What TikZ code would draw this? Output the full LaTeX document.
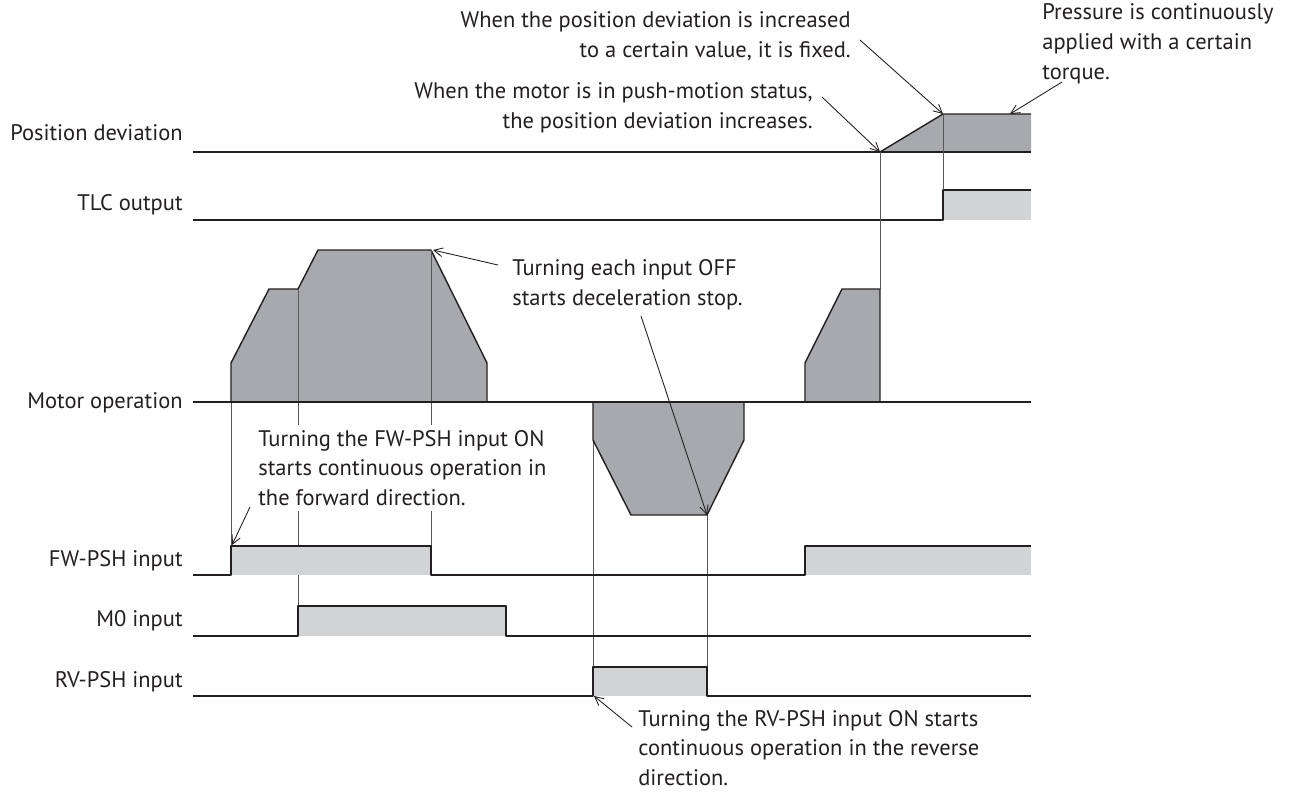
\documentclass[tikz,border=0pt]{standalone}
\usepackage{fontspec}
\setmainfont{PT Sans}
\usetikzlibrary{arrows.meta}
\definecolor{ink}{HTML}{231F20}
\definecolor{darkfill}{HTML}{A7A9AC}
\definecolor{lightfill}{HTML}{D1D3D4}
\tikzset{
	sig/.style={line width=0.8pt, draw=ink},
	guide/.style={line width=0.5pt, draw=ink!75},
	txt/.style={font=\fontsize{12.8}{17}\selectfont, text=ink, inner sep=0pt},
	lbl/.style={txt, anchor=east},
	note/.style={txt, align=left, anchor=west},
	pointer/.style={line width=0.5pt, draw=ink, ->}
}
\begin{document}
\begin{tikzpicture}[x=0.02cm, y=-0.02cm, line join=round, >={Straight Barb[length=5pt,width=5pt]}]
	\useasboundingbox (0,0) rectangle (1294,796);
	% signal names
	\node[lbl] (lblpos) at (183,133) {Position deviation};
	\node[lbl] (lbltlc) at (183,205) {TLC output};
	\node[lbl] (lblmotor) at (183,403) {Motor operation};
	\node[lbl] (lblfw) at (183,561) {FW-PSH input};
	\node[lbl] (lblmzero) at (183,621) {M0 input};
	\node[lbl] (lblrv) at (183,682) {RV-PSH input};
	% position deviation
	\fill[darkfill] (880,152) -- (943,114) -- (1031,114) -- (1031,152) -- cycle;
	\draw[sig] (193,152) -- (1031,152);
	\draw[sig] (880,152) -- (943,114) -- (1031,114);
	% TLC output
	\fill[lightfill] (943,190) rectangle (1031,220);
	\draw[sig] (193,220) -- (943,220) -- (943,190) -- (1031,190);
	% guides
	\draw[guide] (231,402) -- (231,546);
	\draw[guide] (298,289) -- (298,606);
	\draw[guide] (431,250) -- (431,546);
	\draw[guide] (593,402) -- (593,667);
	\draw[guide] (707,515) -- (707,667);
	\draw[guide] (880,152) -- (880,289);
	\draw[guide] (943,114) -- (943,190);
	% motor operation
	\filldraw[sig, fill=darkfill] (231,402) -- (231,363) -- (269,289) -- (298,289) -- (318,250) -- (431,250) -- (487,363) -- (487,402) -- cycle;
	\filldraw[sig, fill=darkfill] (593,402) -- (593,440) -- (631,515) -- (707,515) -- (744,440) -- (744,402) -- cycle;
	\filldraw[sig, fill=darkfill] (805,402) -- (805,363) -- (842,289) -- (880,289) -- (880,402) -- cycle;
	\draw[guide] (298,289) -- (298,402);
	\draw[guide] (431,250) -- (431,402);
	\draw[sig] (193,402) -- (1031,402);
	% inputs
	\fill[lightfill] (231,546) rectangle (431,575);
	\fill[lightfill] (805,546) rectangle (1031,575);
	\draw[sig] (193,575) -- (231,575) -- (231,546) -- (431,546) -- (431,575) -- (805,575) -- (805,546) -- (1031,546);
	\fill[lightfill] (298,606) rectangle (506,636);
	\draw[sig] (193,636) -- (298,636) -- (298,606) -- (506,606) -- (506,636) -- (1031,636);
	\fill[lightfill] (593,667) rectangle (707,696);
	\draw[sig] (193,696) -- (593,696) -- (593,667) -- (707,667) -- (707,696) -- (1031,696);
	% notes
	\node[txt, align=right, anchor=east] (notefix) at (851,36) {When the position deviation is increased\\to a certain value, it is fixed.};
	\node[txt, align=right, anchor=east] (notepush) at (813,108) {When the motor is in push-motion status,\\the position deviation increases.};
	\node[note] (notetorque) at (1042,44) {Pressure is continuously\\applied with a certain\\torque.};
	\node[note] (noteoff) at (512,285) {Turning each input OFF\\starts deceleration stop.};
	\node[note, fill=white, inner ysep=3pt] (notefw) at (258,468) {Turning the FW-PSH input ON\\starts continuous operation in\\the forward direction.};
	\node[note] (noterv) at (638,748) {Turning the RV-PSH input ON starts\\continuous operation in the reverse\\direction.};
	% pointers
	\coordinate (fixtail) at (860,40);
	\coordinate (fixtip) at (943,114);
	\coordinate (pushtail) at (822,97);
	\coordinate (pushtip) at (880,152);
	\coordinate (torquetail) at (1062,82);
	\coordinate (torquetip) at (1010,114);
	\coordinate (offtail) at (498,265);
	\coordinate (offtip) at (433,250);
	\coordinate (stoptail) at (641,316);
	\coordinate (stoptip) at (707,515);
	\coordinate (fwtail) at (250,507);
	\coordinate (fwtip) at (232,545);
	\coordinate (rvtail) at (632,727);
	\coordinate (rvtip) at (594,696);
	\draw[pointer] (fixtail) -- (fixtip);
	\draw[pointer] (pushtail) -- (pushtip);
	\draw[pointer] (torquetail) -- (torquetip);
	\draw[pointer] (offtail) -- (offtip);
	\draw[pointer] (stoptail) -- (stoptip);
	\draw[pointer] (fwtail) -- (fwtip);
	\draw[pointer] (rvtail) -- (rvtip);
\end{tikzpicture}
\end{document}
